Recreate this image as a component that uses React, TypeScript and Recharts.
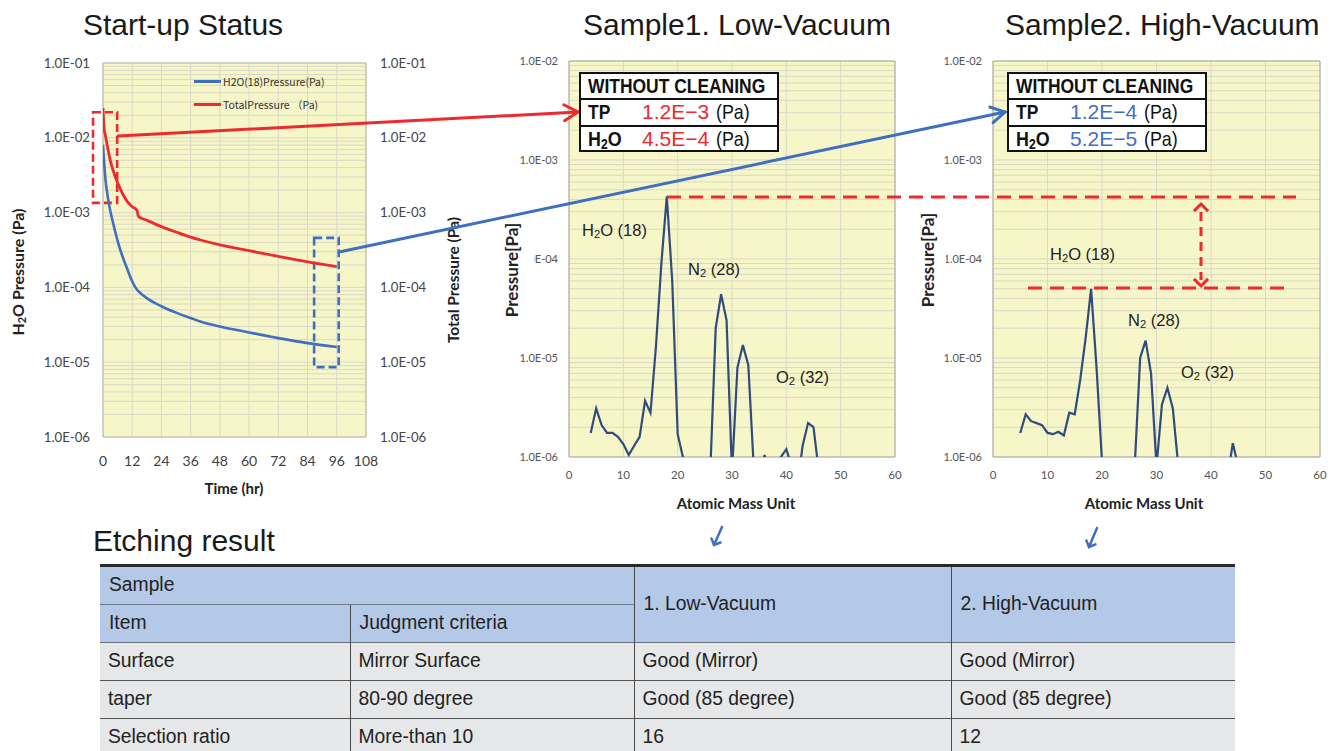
import React from 'react';
import { LineChart, Line, XAxis, YAxis, CartesianGrid, ReferenceArea, Legend } from 'recharts';

const SANS = "'Liberation Sans', Arial, Helvetica, sans-serif";
const TICK_FONT = "Lato, 'Open Sans', 'Noto Sans', sans-serif";
const CJK = "'Noto Sans CJK JP', 'Noto Sans', sans-serif";
const PLOT_BG = '#f6f6c8';
const GRID = '#d9d9c8';
const RED = '#ee2a2e';
const BLUE = '#3f6fc0';
const SPEC = '#2f4c7c';

// ---- Start-up status: pressure vs time ----
const hours = [0, 0.5, 1, 2, 3, 4, 6, 8, 10, 12, 14, 14.5, 18, 24, 30, 36, 40, 48, 60, 72, 84, 96];
const h2oPressure = [8.1e-3, 4.5e-3, 2.8e-3, 1.6e-3, 1.05e-3, 7.6e-4, 4.2e-4, 2.6e-4, 1.75e-4, 1.2e-4, 9.3e-5, 8.9e-5, 7.2e-5, 5.6e-5, 4.6e-5, 3.9e-5, 3.5e-5, 3.0e-5, 2.5e-5, 2.1e-5, 1.8e-5, 1.6e-5];
const totalPressure = [2.5e-2, 1.3e-2, 1.07e-2, 7.1e-3, 5.0e-3, 3.8e-3, 2.5e-3, 1.8e-3, 1.4e-3, 1.2e-3, 1.07e-3, 8.9e-4, 7.9e-4, 6.5e-4, 5.5e-4, 4.7e-4, 4.3e-4, 3.7e-4, 3.1e-4, 2.6e-4, 2.2e-4, 1.9e-4];
const timeTicks = [0, 12, 24, 36, 48, 60, 72, 84, 96, 108];
const startupDecades = [1e-6, 1e-5, 1e-4, 1e-3, 1e-2, 1e-1];

// ---- Mass spectra ----
const amu1 = [4, 5, 6, 7, 8, 9, 10, 11, 12, 13, 14, 15, 16, 17, 18, 19, 20, 21, 22, 23, 24, 25, 26, 27, 28, 29, 30, 31, 32, 33, 34, 35, 36, 37, 38, 39, 40, 41, 42, 43, 44, 45, 46, 47, 48, 49, 50];
const sample1Pressure = [1.75e-6, 3.1e-6, 2.1e-6, 1.75e-6, 1.75e-6, 1.6e-6, 1.35e-6, 1.05e-6, 1.3e-6, 1.6e-6, 3.7e-6, 2.8e-6, 1.3e-5, 9e-5, 4.3e-4, 6e-5, 1.7e-6, 9.8e-7, 5e-7, 5e-7, 5e-7, 5e-7, 7e-7, 2e-5, 4.4e-5, 2.4e-5, 7e-7, 8e-6, 1.35e-5, 8.5e-6, 8e-7, 6e-7, 1.05e-6, 6e-7, 6e-7, 1.0e-6, 1.2e-6, 8e-7, 5e-7, 1.3e-6, 2.2e-6, 2.0e-6, 7e-7, 5e-7, 5e-7, 5e-7, 5e-7];
const amu2 = [5, 6, 7, 8, 9, 10, 11, 12, 13, 14, 15, 16, 17, 18, 19, 20, 21, 22, 23, 24, 25, 26, 27, 28, 29, 30, 31, 32, 33, 34, 35, 36, 37, 38, 39, 40, 41, 42, 43, 44, 45, 46, 47, 48, 49, 50];
const sample2Pressure = [1.75e-6, 2.7e-6, 2.3e-6, 2.2e-6, 2.1e-6, 1.75e-6, 1.7e-6, 1.8e-6, 1.65e-6, 2.8e-6, 2.7e-6, 6e-6, 1.6e-5, 5.0e-5, 8e-6, 9e-7, 5e-7, 5e-7, 5e-7, 5e-7, 5e-7, 8e-7, 1e-5, 1.5e-5, 7e-6, 8e-7, 3.4e-6, 5e-6, 3.1e-6, 8e-7, 5e-7, 5e-7, 5e-7, 5e-7, 5e-7, 5e-7, 5e-7, 5e-7, 6e-7, 1.38e-6, 8e-7, 5e-7, 5e-7, 5e-7, 5e-7, 5e-7];
const amuTicks = [0, 10, 20, 30, 40, 50, 60];
const spectrumDecades = [1e-6, 1e-5, 1e-4, 1e-3, 1e-2];

// ---- Etching result table ----
const tableHeaderSample = 'Sample';
const tableHeaderItem = 'Item';
const tableHeaderCriteria = 'Judgment criteria';
const sampleNames = ['1. Low-Vacuum', '2. High-Vacuum'];
const tableRows = [
  ['Surface', 'Mirror Surface', 'Good (Mirror)', 'Good (Mirror)'],
  ['taper', '80-90 degree', 'Good (85 degree)', 'Good (85 degree)'],
  ['Selection ratio', 'More-than 10', '16', '12'],
];

const isDecade = (v: number) => Math.abs(Math.log10(v) - Math.round(Math.log10(v))) < 1e-6;
const sci = (v: number) => {
  const e = Math.round(Math.log10(v));
  return `1.0E${e < 0 ? '-' : '+'}${String(Math.abs(e)).padStart(2, '0')}`;
};
const withMinors = (decades: number[]) => {
  const out: number[] = [];
  decades.forEach((d, i) => {
    if (i === decades.length - 1) { out.push(d); return; }
    for (let k = 1; k <= 9; k++) out.push(+(k * d).toPrecision(3));
  });
  return out;
};

const makeLogTick = (anchor: 'start' | 'end', fontSize: number, fill: string) => (props: any) => {
  const { x, y, payload } = props;
  if (!isDecade(payload.value)) return <g />;
  return (
    <text x={x} y={y} dy="0.35em" textAnchor={anchor} fontSize={fontSize} fill={fill} fontFamily={TICK_FONT}>
      {sci(payload.value)}
    </text>
  );
};

const Sub = ({ children }: { children: React.ReactNode }) => (
  <span style={{ fontSize: '0.68em', verticalAlign: '-0.22em' }}>{children}</span>
);

const VText = ({ cx, cy, children, style }: any) => (
  <div style={{ position: 'absolute', left: cx, top: cy, transform: 'translate(-50%,-50%) rotate(-90deg)', whiteSpace: 'nowrap', ...style }}>
    {children}
  </div>
);

function StartupChart() {
  const data = hours.map((t, i) => ({ t, h2o: h2oPressure[i], tp: totalPressure[i] }));
  return (
    <div style={{ position: 'absolute', left: 0, top: 0 }}>
      <LineChart width={470} height={510} data={data} margin={{ top: 63, right: 0, bottom: 0, left: 0 }}>
        <CartesianGrid yAxisId="left" fill={PLOT_BG} stroke={GRID} />
        <XAxis type="number" dataKey="t" domain={[0, 108]} ticks={timeTicks} interval={0} height={73}
          tickSize={0} tickMargin={19} axisLine={false} allowDataOverflow
          tick={{ fontSize: 14, fill: '#404040', fontFamily: TICK_FONT }} />
        <YAxis yAxisId="left" type="number" scale="log" domain={[1e-6, 1e-1]} allowDataOverflow
          ticks={withMinors(startupDecades)} interval={0} width={103} tickSize={0} tickMargin={13}
          axisLine={false} tick={makeLogTick('end', 13.2, '#444')} />
        <YAxis yAxisId="right" orientation="right" type="number" scale="log" domain={[1e-6, 1e-1]} allowDataOverflow
          ticks={startupDecades} interval={0} width={104} tickSize={0} tickMargin={14}
          axisLine={false} tick={makeLogTick('start', 13.2, '#444')} />
        <ReferenceArea yAxisId="left" x1={0} x2={108} y1={1e-6} y2={1e-1} fill="none" stroke="#b8b8a8" ifOverflow="visible" />
        <Line yAxisId="left" dataKey="h2o" name="H2O(18)Pressure(Pa)" type="monotone" stroke={BLUE} strokeWidth={2.6} dot={false} isAnimationActive={false} />
        <Line yAxisId="right" dataKey="tp" name="TotalPressure （Pa)" type="monotone" stroke={RED} strokeWidth={2.8} dot={false} isAnimationActive={false} />
        <ReferenceArea yAxisId="left" x1={-4.1} x2={5.8} y1={1.35e-3} y2={2.2e-2} fill="none" stroke={RED} strokeWidth={2.6} strokeDasharray="8 4" ifOverflow="visible" />
        <ReferenceArea yAxisId="left" x1={86.7} x2={96.8} y1={8.6e-6} y2={4.6e-4} fill="none" stroke={BLUE} strokeWidth={2.6} strokeDasharray="8 4" ifOverflow="visible" />
        <Legend layout="vertical" align="center" verticalAlign="middle"
          wrapperStyle={{ position: 'absolute', left: 194, top: 70, width: 170, height: 44 }}
          content={(p: any) => (
            <div>
              {(p.payload || []).map((e: any) => (
                <div key={e.value} style={{ display: 'flex', alignItems: 'center', height: 23 }}>
                  <div style={{ width: 27, height: 2.5, background: e.color, marginRight: 2 }} />
                  <span style={{ fontFamily: CJK, fontSize: 10.5, color: '#333', whiteSpace: 'nowrap' }}>{e.value}</span>
                </div>
              ))}
            </div>
          )} />
      </LineChart>
    </div>
  );
}

function SpectrumChart({ left, width, yWidth, right, amu, values }: any) {
  const data = amu.map((m: number, i: number) => ({ m, p: values[i] }));
  return (
    <div style={{ position: 'absolute', left, top: 0 }}>
      <LineChart width={width} height={520} data={data} margin={{ top: 61, right, bottom: 0, left: 0 }}>
        <CartesianGrid fill={PLOT_BG} stroke={GRID} />
        <XAxis type="number" dataKey="m" domain={[0, 60]} ticks={amuTicks} interval={0} height={63}
          tickSize={0} tickMargin={14} axisLine={false} allowDataOverflow
          tick={{ fontSize: 11.5, fill: '#555', fontFamily: TICK_FONT }} />
        <YAxis type="number" scale="log" domain={[1e-6, 1e-2]} allowDataOverflow
          ticks={withMinors(spectrumDecades)} interval={0} width={yWidth} tickSize={0} tickMargin={11}
          axisLine={false} tick={makeLogTick('end', 11, '#555')} />
        <ReferenceArea x1={0} x2={60} y1={1e-6} y2={1e-2} fill="none" stroke="#aaaaa0" ifOverflow="visible" />
        <Line dataKey="p" type="linear" stroke={SPEC} strokeWidth={2.2} dot={false} isAnimationActive={false} />
      </LineChart>
    </div>
  );
}

function InfoBox({ left, tp, h2o, color }: any) {
  const narrow = (txt: React.ReactNode, l: number, cy: number, bold: boolean, scale = 0.83) => (
    <div style={{ position: 'absolute', left: l, top: cy - 12, lineHeight: '24px', fontSize: 21, fontWeight: bold ? 'bold' : 'normal',
      whiteSpace: 'nowrap', transform: `scaleX(${scale})`, transformOrigin: 'left center', color: '#111' }}>{txt}</div>
  );
  const val = (txt: string, cy: number) => (
    <div style={{ position: 'absolute', left: 61, top: cy - 12, lineHeight: '24px', fontSize: 21, color, whiteSpace: 'nowrap' }}>{txt}</div>
  );
  return (
    <div style={{ position: 'absolute', left, top: 72, width: 200, height: 80, border: '2px solid #111', boxSizing: 'border-box', background: '#fff', fontFamily: SANS }}>
      <div style={{ position: 'absolute', left: 0, right: 0, top: 24, height: 2, background: '#111' }} />
      <div style={{ position: 'absolute', left: 0, right: 0, top: 51, height: 2, background: '#111' }} />
      {narrow('WITHOUT CLEANING', 7, 12, true)}
      {narrow('TP', 7, 38, true)}
      {val(tp, 38)}
      {narrow('(Pa)', 135, 38, false, 0.85)}
      {narrow(<span>H<Sub>2</Sub>O</span>, 7, 65, true, 0.85)}
      {val(h2o, 65)}
      {narrow('(Pa)', 135, 65, false, 0.85)}
    </div>
  );
}

const arrowHead = (x1: number, y1: number, x2: number, y2: number, len = 15, ang = Math.PI / 6) => {
  const a = Math.atan2(y2 - y1, x2 - x1);
  const p1 = [x2 - len * Math.cos(a - ang), y2 - len * Math.sin(a - ang)];
  const p2 = [x2 - len * Math.cos(a + ang), y2 - len * Math.sin(a + ang)];
  return `M${p1[0]},${p1[1]} L${x2},${y2} L${p2[0]},${p2[1]}`;
};

function Overlay() {
  return (
    <svg width={1340} height={751} style={{ position: 'absolute', left: 0, top: 0, pointerEvents: 'none' }}>
      <g fill="none" strokeLinecap="round">
        <path d="M118,136 L578,112" stroke={RED} strokeWidth={3} />
        <path d={arrowHead(118, 136, 578, 112, 16)} stroke={RED} strokeWidth={3} />
        <path d="M339,252 L1005,112" stroke={BLUE} strokeWidth={3} />
        <path d={arrowHead(339, 252, 1005, 112, 16)} stroke={BLUE} strokeWidth={3} />
      </g>
      <g fill="none" stroke={RED} strokeWidth={3}>
        <path d="M667,197 L1296,197" strokeDasharray="14 8" />
        <path d="M1028,288 L1286,288" strokeDasharray="14 8" />
        <path d="M1201,212 L1201,280" strokeDasharray="9 6" />
        <path d={arrowHead(1201, 250, 1201, 204, 10, Math.PI / 4)} />
        <path d={arrowHead(1201, 240, 1201, 286, 10, Math.PI / 4)} />
      </g>
      <g fill="none" stroke={BLUE} strokeWidth={2.5} strokeLinecap="round">
        <path d="M722,527 L714,545" />
        <path d={arrowHead(722, 527, 714, 545, 7, Math.PI / 4)} />
        <path d="M1097,528 L1089,547" />
        <path d={arrowHead(1097, 528, 1089, 547, 7, Math.PI / 4)} />
      </g>
    </svg>
  );
}

const PeakLabel = ({ left, cy, el, rest }: any) => (
  <div style={{ position: 'absolute', left, top: cy - 11, lineHeight: '22px', fontSize: 16.5, fontFamily: SANS, color: '#222', whiteSpace: 'nowrap' }}>
    {el}<Sub>2</Sub>{rest}
  </div>
);

const Title = ({ left, top, children }: any) => (
  <div style={{ position: 'absolute', left, top, fontFamily: SANS, fontSize: 30, lineHeight: '30px', color: '#1a1a1a', whiteSpace: 'nowrap' }}>{children}</div>
);

function EtchingTable() {
  const hdr: React.CSSProperties = { background: '#b4c8e7', padding: '0 0 0 9px', verticalAlign: 'middle' };
  const body: React.CSSProperties = { background: '#e6e7e8', padding: '0 0 0 8px', verticalAlign: 'middle', borderTop: '1px solid #555' };
  const vline = '1px solid #4a4a4a';
  return (
    <>
      <div style={{ position: 'absolute', left: 100, top: 564, width: 1135, height: 3, background: '#2a2a2a' }} />
      <table style={{ position: 'absolute', left: 100, top: 567, width: 1135, borderCollapse: 'collapse', tableLayout: 'fixed',
        fontFamily: SANS, fontSize: 19.3, color: '#222', borderSpacing: 0 }}>
        <colgroup>
          <col style={{ width: 250 }} />
          <col style={{ width: 284 }} />
          <col style={{ width: 317 }} />
          <col style={{ width: 284 }} />
        </colgroup>
        <tbody>
          <tr style={{ height: 37 }}>
            <td colSpan={2} style={hdr}>{tableHeaderSample}</td>
            <td rowSpan={2} style={{ ...hdr, borderLeft: vline }}>{sampleNames[0]}</td>
            <td rowSpan={2} style={{ ...hdr, borderLeft: vline }}>{sampleNames[1]}</td>
          </tr>
          <tr style={{ height: 38 }}>
            <td style={{ ...hdr, borderTop: '1px solid #6f7c8f' }}>{tableHeaderItem}</td>
            <td style={{ ...hdr, borderTop: '1px solid #6f7c8f', borderLeft: vline }}>{tableHeaderCriteria}</td>
          </tr>
          {tableRows.map((r, i) => (
            <tr key={i} style={{ height: 38 }}>
              {r.map((c, j) => (
                <td key={j} style={{ ...body, borderLeft: j > 0 ? vline : 'none', borderTop: i === 0 ? '1px solid #6a6f78' : '1px solid #555' }}>{c}</td>
              ))}
            </tr>
          ))}
        </tbody>
      </table>
    </>
  );
}

export default function App() {
  const axisTitle: React.CSSProperties = { fontFamily: TICK_FONT, fontWeight: 'bold', color: '#222' };
  return (
    <div style={{ position: 'absolute', left: 0, top: 0, width: 1340, height: 751, overflow: 'hidden', background: '#fff' }}>
      <Title left={83} top={10}>Start-up Status</Title>
      <Title left={583} top={10}>Sample1. Low-Vacuum</Title>
      <Title left={1005} top={10}>Sample2. High-Vacuum</Title>

      <StartupChart />
      <SpectrumChart left={490} width={420} yWidth={79} right={15} amu={amu1} values={sample1Pressure} />
      <SpectrumChart left={910} width={430} yWidth={83} right={20} amu={amu2} values={sample2Pressure} />

      <VText cx={18} cy={272} style={{ ...axisTitle, fontSize: 16 }}>H<Sub>2</Sub>O Pressure (Pa)</VText>
      <VText cx={453} cy={280} style={{ ...axisTitle, fontSize: 15.5 }}>Total Pressure (Pa)</VText>
      <div style={{ position: 'absolute', left: 234, top: 488, transform: 'translate(-50%,-50%)', whiteSpace: 'nowrap', ...axisTitle, fontSize: 15 }}>Time (hr)</div>

      <VText cx={517.5} cy={270} style={{ ...axisTitle, fontSize: 17, lineHeight: '20px', paddingBottom: 13, background: '#fff' }}>Pressure[Pa]</VText>
      <VText cx={932} cy={260} style={{ ...axisTitle, fontSize: 17, lineHeight: '20px', paddingBottom: 8, background: '#fff' }}>Pressure[Pa]</VText>
      <div style={{ position: 'absolute', left: 736, top: 503, transform: 'translate(-50%,-50%)', whiteSpace: 'nowrap', ...axisTitle, fontSize: 15 }}>Atomic Mass Unit</div>
      <div style={{ position: 'absolute', left: 1144, top: 503, transform: 'translate(-50%,-50%)', whiteSpace: 'nowrap', ...axisTitle, fontSize: 15 }}>Atomic Mass Unit</div>

      <PeakLabel left={582} cy={230} el="H" rest="O (18)" />
      <PeakLabel left={688} cy={269} el="N" rest=" (28)" />
      <PeakLabel left={776} cy={377} el="O" rest=" (32)" />
      <PeakLabel left={1050} cy={254} el="H" rest="O (18)" />
      <PeakLabel left={1128} cy={320} el="N" rest=" (28)" />
      <PeakLabel left={1181} cy={372} el="O" rest=" (32)" />

      <Overlay />

      <InfoBox left={579} tp="1.2E−3" h2o="4.5E−4" color={RED} />
      <InfoBox left={1007} tp="1.2E−4" h2o="5.2E−5" color={BLUE} />

      <Title left={93} top={526}>Etching result</Title>
      <EtchingTable />
    </div>
  );
}
